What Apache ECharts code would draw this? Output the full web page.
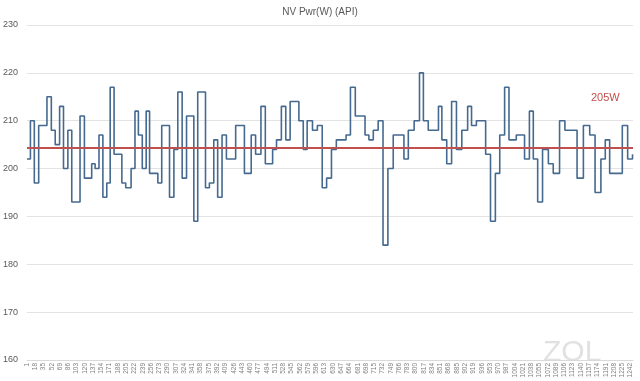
<!DOCTYPE html>
<html><head><meta charset="utf-8">
<script src="https://cdn.jsdelivr.net/npm/echarts@6/dist/echarts.min.js"></script>
<style>html,body{margin:0;padding:0;background:#fff}#c{width:640px;height:381px}</style>
</head><body><div id="c"></div>
<script>
// sample index (0-based) where each step begins, and its value (W)
const stepStart = [0,7,15,24,41,50,58,67,75,84,92,109,118,133,140,148,156,164,171,179,195,203,214,222,229,237,245,
  252,269,277,293,302,310,319,328,343,351,367,375,384,392,401,410,429,447,461,470,481,490,
  505,513,523,532,541,559,568,576,587,597,607,616,626,636,656,665,675,695,703,712,722,732,742,
  753,775,784,796,807,815,825,846,853,863,873,883,894,906,914,924,943,953,963,972,982,991,
  1006,1023,1033,1041,1050,1060,1072,1082,1095,1106,1131,1144,1157,1168,1180,1189,1198,1224,1235,1245];
const stepValue = [202,210,197,209,215,208,205,213,200,208,193,211,198,201,200,207,194,197,217,203,197,196,200,212,207,200,212,
  199,197,209,194,204,216,198,211,189,216,196,197,206,194,207,202,209,199,207,203,213,201,
  204,206,213,206,214,210,204,210,208,209,196,198,204,206,207,217,211,207,206,208,210,184,200,
  207,202,208,210,220,210,208,213,206,201,214,204,208,213,209,210,203,189,199,207,217,206,
  207,202,212,202,193,204,201,199,210,208,198,209,207,195,202,206,199,209,202,203];
const lastSample = 1246;
const labelStep = 17;
const refValue = 204.4;
const refLabel = '205W';
const titleText = 'NV Pwr(W) (API)';
const yMin = 160, yMax = 230, yStep = 10;

const seriesData = stepStart.map((s, i) => [s, stepValue[i]]);
seriesData.push([lastSample, stepValue[stepValue.length - 1]]);

const chart = echarts.init(document.getElementById('c'), null, {renderer: 'canvas'});
chart.setOption({
  animation: false,
  backgroundColor: '#ffffff',
  title: {
    text: titleText, left: 'center', top: 2,
    textStyle: {fontSize: 10, fontWeight: 'normal', color: '#595959', fontFamily: 'Liberation Sans'}
  },
  grid: {left: 25, right: 7, top: 25, bottom: 21, containLabel: false},
  xAxis: {
    type: 'value', min: 0, max: lastSample, interval: labelStep,
    axisLine: {show: true, lineStyle: {color: '#d9d9d9'}},
    axisTick: {show: false},
    splitLine: {show: false},
    axisLabel: {
      rotate: 90, fontSize: 6.5, color: '#808080', margin: 3, fontFamily: 'Liberation Sans',
      showMaxLabel: false,
      formatter: v => (v % labelStep === 0 ? String(v + 1) : '')
    }
  },
  yAxis: {
    type: 'value', min: yMin, max: yMax, interval: yStep,
    axisLine: {show: false}, axisTick: {show: false},
    splitLine: {lineStyle: {color: '#e3e3e3', width: 1}},
    axisLabel: {fontSize: 9, color: '#595959', margin: 9, fontFamily: 'Liberation Sans'}
  },
  series: [{
    type: 'line', step: 'end', data: seriesData, symbol: 'none',
    lineStyle: {color: '#45698f', width: 1.6},
    markLine: {
      silent: true, symbol: 'none',
      data: [{yAxis: refValue}],
      lineStyle: {color: '#c0504d', width: 2, type: 'solid'},
      label: {show: false}
    }
  }],
  graphic: [
    {type: 'text', left: 591, top: 92, style: {text: refLabel, fontSize: 11, fill: '#c0504d', fontFamily: 'Liberation Sans'}},
    {type: 'text', left: 543, top: 338, style: {text: 'ZOL', fontSize: 30, fill: 'rgba(195,195,195,0.5)', fontFamily: 'Liberation Sans'}}
  ]
});
</script>
</body></html>
